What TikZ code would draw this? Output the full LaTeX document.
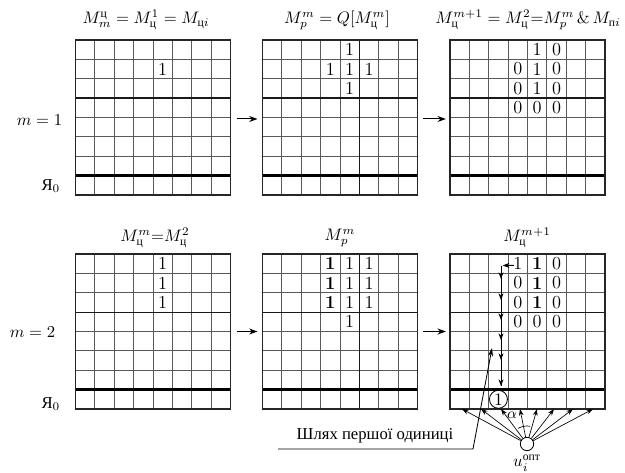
\documentclass[tikz,border=0pt]{standalone}
\usepackage{fontspec}
\usepackage{amsmath}
\newfontfamily\cyrfont{Liberation Serif}
\usetikzlibrary{arrows.meta}
\newcommand{\cy}[1]{\text{\cyrfont #1}}
\newcommand{\cellsz}{19.375}
\tikzset{
  gbox/.style={draw=none,inner sep=0pt,outer sep=0pt,minimum width=93pt,minimum height=93pt},
  thinline/.style={draw=black!65,line width=0.5pt},
  midline/.style={draw=black!90,line width=0.75pt},
  yaline/.style={draw=black,line width=1.9pt},
  border/.style={draw=black!85,line width=1pt},
  cellt/.style={inner sep=0pt,font=\fontsize{11}{12}\selectfont},
  conn/.style={line width=0.6pt,-{Stealth[length=5pt,width=3.6pt]}},
  fanarrow/.style={line width=0.4pt,-{Stealth[length=4pt,width=2.8pt]}},
  pathln/.style={line width=0.5pt},
  smallhead/.style={line width=0.5pt,-{Stealth[length=4pt,width=3pt]}},
}
\newcommand{\drawgrid}[4]{%
  \node[gbox,anchor=north west] (#1) at (#2,#3) {};
  \begin{scope}[shift={(#2,#3)}]
    \foreach \k in {1,...,7} {\draw[thinline] ({\k*\cellsz},0) -- ({\k*\cellsz},155);}
    \foreach \k in {1,2,4,5,6} {\draw[thinline] (0,{\k*\cellsz}) -- (155,{\k*\cellsz});}
    \draw[midline] (0,{3*\cellsz}) -- (155,{3*\cellsz});
    \ifnum#4>0 \draw[midline] ({#4*\cellsz},0) -- ({#4*\cellsz},155);\fi
    \draw[yaline] (0,{7*\cellsz}) -- (155,{7*\cellsz});
  \end{scope}
  \draw[border] (#1.north west) rectangle (#1.south east);
}
\newcommand{\cellv}[4]{\node[cellt] (#1-#2-#3) at ([shift={({(#3-0.5)*\cellsz},{(#2-0.5)*\cellsz})}]#1.north west) {#4};}
\begin{document}
\begin{tikzpicture}[x=0.6pt,y=-0.6pt]
\useasboundingbox (0,0) rectangle (625,473);
% grids
\drawgrid{A}{75.5}{40}{0}
\drawgrid{B}{262.5}{40}{5}
\drawgrid{C}{450}{40}{0}
\drawgrid{D}{75.5}{254}{0}
\drawgrid{E}{262.5}{254}{5}
\drawgrid{F}{450}{254}{0}
% titles
\node (t1) at (146,20) {$M_m^{\cy{ц}} = M_{\cy{ц}}^1 = M_{\cy{ц}i}$};
\node (t2) at (337,20) {$M_p^m = Q[M_{\cy{ц}}^m]$};
\node (t3) at (528,20) {$M_{\cy{ц}}^{m+1} = M_{\cy{ц}}^2 {=} M_p^m \,\&\, M_{\cy{п}i}$};
\node (t4) at (155,238) {$M_{\cy{ц}}^m {=} M_{\cy{ц}}^2$};
\node (t5) at (340,238) {$M_p^m$};
\node (t6) at (527,238) {$M_{\cy{ц}}^{m+1}$};
% left labels
\node[anchor=east] (m1) at (68,120) {$m = 1$};
\node[anchor=east] (ya1) at (66,186) {{\cyrfont Я}$_0$};
\node[anchor=east] (m2) at (61,332) {$m = 2$};
\node[anchor=east] (ya2) at (66,404) {{\cyrfont Я}$_0$};
% arrows between grids
\draw[conn] ([xshift=3.6pt,yshift=-0.9pt]A.east) -- ([xshift=-3pt,yshift=-0.9pt]B.west);
\draw[conn] ([xshift=3pt,yshift=-0.9pt]B.east) -- ([xshift=-2.5pt,yshift=-0.9pt]C.west);
\draw[conn] ([xshift=3.6pt]D.east) -- ([xshift=-3pt]E.west);
\draw[conn] ([xshift=3pt]E.east) -- ([xshift=-2.5pt]F.west);
% cell values
\cellv{A}{2}{5}{1}
\cellv{B}{1}{5}{1}
\cellv{B}{2}{4}{1}\cellv{B}{2}{5}{1}\cellv{B}{2}{6}{1}
\cellv{B}{3}{5}{1}
\cellv{C}{1}{5}{1}\cellv{C}{1}{6}{0}
\cellv{C}{2}{4}{0}\cellv{C}{2}{5}{1}\cellv{C}{2}{6}{0}
\cellv{C}{3}{4}{0}\cellv{C}{3}{5}{1}\cellv{C}{3}{6}{0}
\cellv{C}{4}{4}{0}\cellv{C}{4}{5}{0}\cellv{C}{4}{6}{0}
\cellv{D}{1}{5}{1}\cellv{D}{2}{5}{1}\cellv{D}{3}{5}{1}
\foreach \r in {1,2,3} {\cellv{E}{\r}{4}{\textbf{1}}\cellv{E}{\r}{5}{1}\cellv{E}{\r}{6}{1}}
\cellv{E}{4}{5}{1}
\cellv{F}{1}{4}{1}\cellv{F}{1}{5}{\textbf{1}}\cellv{F}{1}{6}{0}
\cellv{F}{2}{4}{0}\cellv{F}{2}{5}{\textbf{1}}\cellv{F}{2}{6}{0}
\cellv{F}{3}{4}{0}\cellv{F}{3}{5}{\textbf{1}}\cellv{F}{3}{6}{0}
\cellv{F}{4}{4}{0}\cellv{F}{4}{5}{0}\cellv{F}{4}{6}{0}
% circled one
\node[circle,draw,line width=0.5pt,inner sep=0pt,minimum size=10.8pt,font=\fontsize{10.5}{12}\selectfont] (one) at ([shift={({2.5*\cellsz},{7.5*\cellsz})}]F.north west) {1};
% path of first one
\coordinate (pt) at (501,265.5);
\coordinate (pb) at (501,386);
\draw[smallhead] ([xshift=0.5pt,yshift=-1pt]F-1-4.west) -- ([xshift=1pt]pt);
\draw[pathln] (pt) -- (pb);
\foreach \yy in {279,300,320,340,360,386} {\draw[smallhead] (501,\yy-5) -- (501,\yy);}
% sensor fan
\node[circle,draw,line width=0.5pt,inner sep=0pt,minimum size=8pt] (u) at (527,444) {};
\foreach \xx [count=\n] in {462,481,501,520,537,554,573,593} {
  \coordinate (f\n) at (\xx,409);
  \draw[fanarrow] (u) -- (f\n);
}
\draw[line width=0.4pt] (u.center) ++(120:10.8pt) arc[start angle=120,end angle=80,radius=10.8pt];
\node[font=\small,inner sep=0pt] (al) at (512,415) {$\alpha$};
\node (ul) at (527,463) {$u_i^{\cy{опт}}$};
% leader
\node (lbl) at (375,436) {\cyrfont Шлях першої одиниці};
\coordinate (l0) at (278,449);
\coordinate (l1) at (473,449);
\coordinate (l2) at (492,348);
\draw[line width=0.5pt,-{Stealth[length=5pt,width=3pt]}] (l0) -- (l1) -- (l2);
\end{tikzpicture}
\end{document}
